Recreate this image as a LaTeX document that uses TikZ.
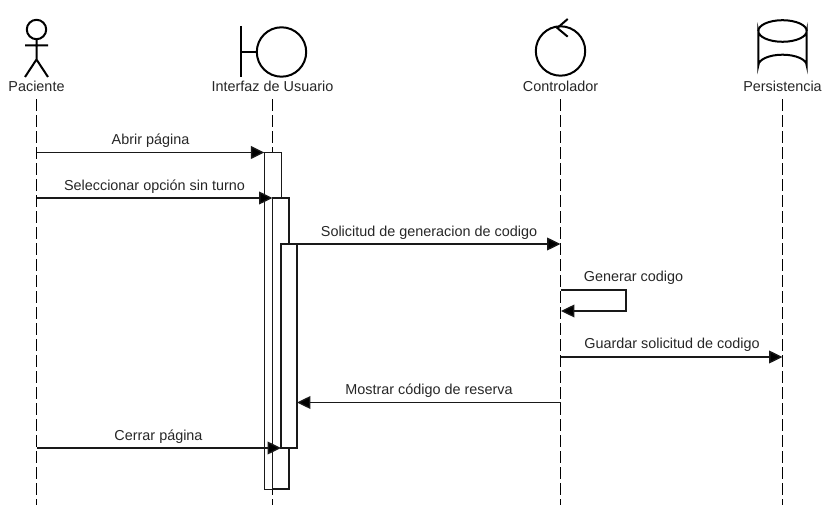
\documentclass[tikz,border=0pt]{standalone}
\usepackage{fontspec}
\setmainfont{Liberation Sans}
\usetikzlibrary{arrows.meta,calc}
\tikzset{
  x=0.75pt,y=-0.75pt,
  every path/.append style={line join=miter},
  ln/.style={line width=1pt,draw=black!90},
  icon/.style={line width=1.5pt,draw=black},
  msg/.style={ln,-{Triangle[length=10pt,width=9.5pt,fill=black]}},
  life/.style={line width=1pt,draw=black,dash pattern=on 9pt off 3pt},
  actlabel/.style={font=\fontsize{10.8pt}{12pt}\selectfont,text=black!85,inner xsep=0pt,inner ysep=3pt,text height=8pt,text depth=2.5pt,anchor=center},
  msglabel/.style={font=\fontsize{10.8pt}{12pt}\selectfont,text=black!85,inner sep=0pt,anchor=center},
  actbox/.style={draw=black!90,line width=1pt,fill=white,inner sep=0pt,outer sep=0pt,anchor=north west}
}
\begin{document}
\begin{tikzpicture}
\useasboundingbox (0,0) rectangle (830,505);
% header labels
\node[actlabel] (lP) at (36.5,88) {Paciente};
\node[actlabel] (lI) at (272.5,88) {Interfaz de Usuario};
\node[actlabel] (lC) at (560.5,88) {Controlador};
\node[actlabel] (lD) at (782.5,88) {Persistencia};
% lifeline ends
\coordinate (eP) at (36.5,505);
\coordinate (eI) at (272.5,505);
\coordinate (eC) at (560.5,505);
\coordinate (eD) at (782.5,505);
\draw[life] (lP.south) -- (eP);
\draw[life] (lI.south) -- (eI);
\draw[life] (lC.south) -- (eC);
\draw[life] (lD.south) -- (eD);
% actor icons
\draw[icon] (36.5,29.5) circle (9.7);
\draw[icon] (36.5,39.2) -- (36.5,59.5) (25,45.5) -- (48,45.5) (25,77) -- (36.5,59.5) -- (48,77);
% boundary
\draw[icon] (241,26) -- (241,77) (241,52) -- (257,52);
\draw[icon] (281.5,52) circle (24.7);
% control
\draw[icon] (560.5,51) circle (24.7);
\draw[icon] (567.7,19) -- (557.3,28) -- (567.7,36.7);
% database
\draw[icon] (758.3,31) arc[x radius=24.2,y radius=10.8,start angle=180,end angle=0]
  -- (806.7,65.5) arc[x radius=24.2,y radius=10.8,start angle=360,end angle=180] -- cycle;
\draw[icon] (758.3,31) arc[x radius=24.2,y radius=10.8,start angle=180,end angle=360];
% activation boxes
\node[actbox,minimum width=12.75pt,minimum height=252.75pt] (bA) at (264.3,152.5) {};
\node[actbox,minimum width=12.3pt,minimum height=218.25pt] (bB) at (272.5,198) {};
\node[actbox,minimum width=12pt,minimum height=153pt] (bC) at (281,244) {};
% messages
\coordinate (m1) at (36.5,152.5);
\coordinate (m2) at (36.5,198);
\coordinate (m3) at (560.5,244);
\coordinate (m4) at (560.5,290);
\coordinate (m4a) at (626,290);
\coordinate (m4b) at (626,311);
\coordinate (m4c) at (561,311);
\coordinate (m5) at (560.5,357);
\coordinate (m5e) at (782.5,357);
\coordinate (m6) at (560.5,402.5);
\coordinate (m7) at (36.5,448);
\draw[msg] (m1) -- (bA.north west);
\draw[msg] (m2) -- (bB.north west);
\draw[msg] (bC.north west) -- (m3);
\draw[msg] (m4) -- (m4a) -- (m4b) -- (m4c);
\draw[msg] (m5) -- (m5e);
\draw[msg] (m6) -- (bC.east |- m6);
\draw[msg] (m7) -- (bC.south west);
% labels
\node[msglabel] (t1) at (150.5,141) {Abrir página};
\node[msglabel] (t2) at (154.5,187) {Seleccionar opción sin turno};
\node[msglabel] (t3) at (429,233) {Solicitud de generacion de codigo};
\node[msglabel] (t4) at (633.5,278) {Generar codigo};
\node[msglabel] (t5) at (672,345) {Guardar solicitud de codigo};
\node[msglabel] (t6) at (429,391) {Mostrar código de reserva};
\node[msglabel] (t7) at (158.5,437) {Cerrar página};
\end{tikzpicture}
\end{document}
